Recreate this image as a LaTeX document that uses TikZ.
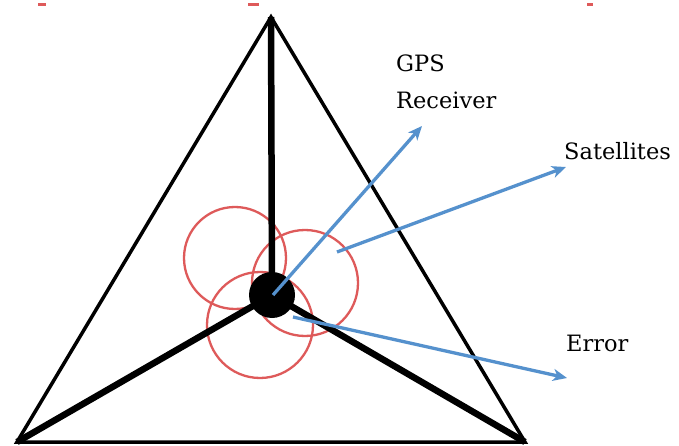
\documentclass[tikz,border=0pt]{standalone}
\usepackage{fontspec}
\setmainfont{DejaVu Serif}
\usetikzlibrary{arrows.meta}
\definecolor{circred}{RGB}{222,90,90}
\definecolor{arrblue}{RGB}{85,145,205}
\tikzset{
  edge/.style={line width=3.5pt,black,line join=miter},
  spoke/.style={line width=6.5pt,black},
  errcirc/.style={draw=circred,line width=2.3pt},
  pointer/.style={draw=arrblue,line width=3.3pt,-{Stealth[length=14pt,width=12pt,inset=4pt]}},
  lbl/.style={font=\fontsize{22.5}{37}\selectfont,anchor=west,align=left,inner sep=0pt}
}
\begin{document}
\begin{tikzpicture}[x=1pt,y=-1pt]
\useasboundingbox (0,0) rectangle (679,446);
\fill[white] (0,0) rectangle (679,446);
% vertices
\coordinate (top) at (271,17);
\coordinate (bl) at (17,442);
\coordinate (br) at (525,442);
\coordinate (c) at (272,295);
% error circles
\node[errcirc,circle,minimum size=102pt,inner sep=0pt] (e1) at (235,258) {};
\node[errcirc,circle,minimum size=106pt,inner sep=0pt] (e2) at (305,283) {};
\node[errcirc,circle,minimum size=106pt,inner sep=0pt] (e3) at (260,325) {};
% triangle
\draw[edge] (top) -- (br) -- (bl) -- cycle;
% spokes
\draw[spoke] (c) -- (top);
\draw[spoke] (c) -- (bl);
\draw[spoke] (c) -- (br);
\node[circle,fill=black,minimum size=46pt,inner sep=0pt] (rx) at (c) {};
% labels
\node[lbl] (gps) at (396,82) {GPS\\Receiver};
\node[lbl] (sat) at (564,151) {Satellites};
\node[lbl] (err) at (566,343) {Error};
% arrow end points
\coordinate (a1s) at (273,295);
\coordinate (a1e) at (422,126);
\coordinate (a2s) at (337,252);
\coordinate (a2e) at (566,167);
\coordinate (a3s) at (293,317);
\coordinate (a3e) at (567,378);
\draw[pointer] (a1s) -- (a1e);
\draw[pointer] (a2s) -- (a2e);
\draw[pointer] (a3s) -- (a3e);
% cut-off marks at top edge
\fill[circred] (38,3) rectangle (46,6);
\fill[circred] (248,3) rectangle (259,6);
\fill[circred] (587,3) rectangle (593,6);
\end{tikzpicture}
\end{document}
